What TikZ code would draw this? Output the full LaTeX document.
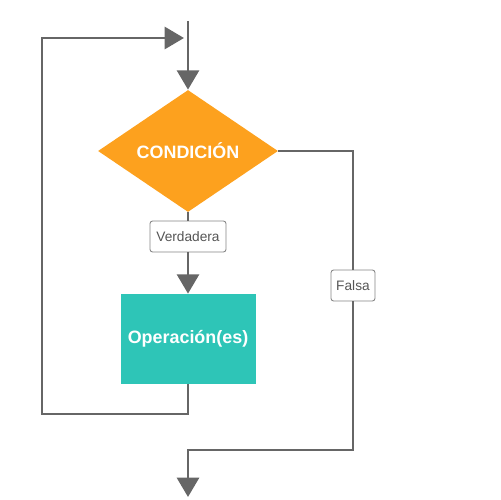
\documentclass[tikz,border=0pt]{standalone}
\usepackage{fontspec}
\setmainfont{Liberation Sans}
\usetikzlibrary{shapes.geometric,arrows.meta}
\definecolor{lineg}{HTML}{666666}
\definecolor{orng}{HTML}{FDA11E}
\definecolor{teal2}{HTML}{2EC5B7}
\definecolor{txtg}{HTML}{555555}
\tikzset{
  conn/.style={draw=lineg, line width=1.7pt},
  arr/.style={conn, -{Triangle[length=11pt,width=12.5pt]}},
  lbl/.style={draw=lineg!80, line width=0.5pt, rounded corners=1.5pt, fill=white,
    text=txtg, font=\fontsize{7.8}{9}\selectfont, minimum width=76*0.02cm, minimum height=31*0.02cm, inner sep=1pt},
}
\begin{document}
\begin{tikzpicture}[x=0.02cm,y=-0.02cm]
\useasboundingbox (0,0) rectangle (500,500);
\node[diamond, fill=orng, minimum width=180*0.02cm, minimum height=122*0.02cm, inner sep=0pt,
  text=white, font=\fontsize{10.2}{12}\selectfont\bfseries] (cond) at (188,151) {CONDICIÓN};
\node[rectangle, fill=teal2, minimum width=135*0.02cm, minimum height=90*0.02cm, inner sep=0pt,
  text=white, font=\fontsize{10.2}{12}\selectfont\bfseries] (op) at (188,339) {Operación(es)};
\node[lbl] (verd) at (188,236.5) {Verdadera};
\node[lbl, minimum width=44*0.02cm] (fals) at (353,285.5) {Falsa};
\coordinate (start) at (188,21);
\coordinate (loopin) at (184,38);
\coordinate (lb) at (188,414);
\coordinate (lt) at (42,38);
\coordinate (rb) at (353,450);
\coordinate (endp) at (188,497);
% entry
\draw[arr] (start) -- (cond.north);
% true branch
\draw[conn] (cond.south) -- (verd.north);
\draw[arr] (verd.south) -- (op.north);
% loop back
\draw[arr] (op.south) -- (lb) -| (lt) -- (loopin);
% false branch
\draw[conn] (cond.east) -| (fals.north);
\draw[conn] (fals.south) -- (rb) -| (188,470) coordinate (bm);
\draw[arr] (bm) -- (endp);
\end{tikzpicture}
\end{document}
